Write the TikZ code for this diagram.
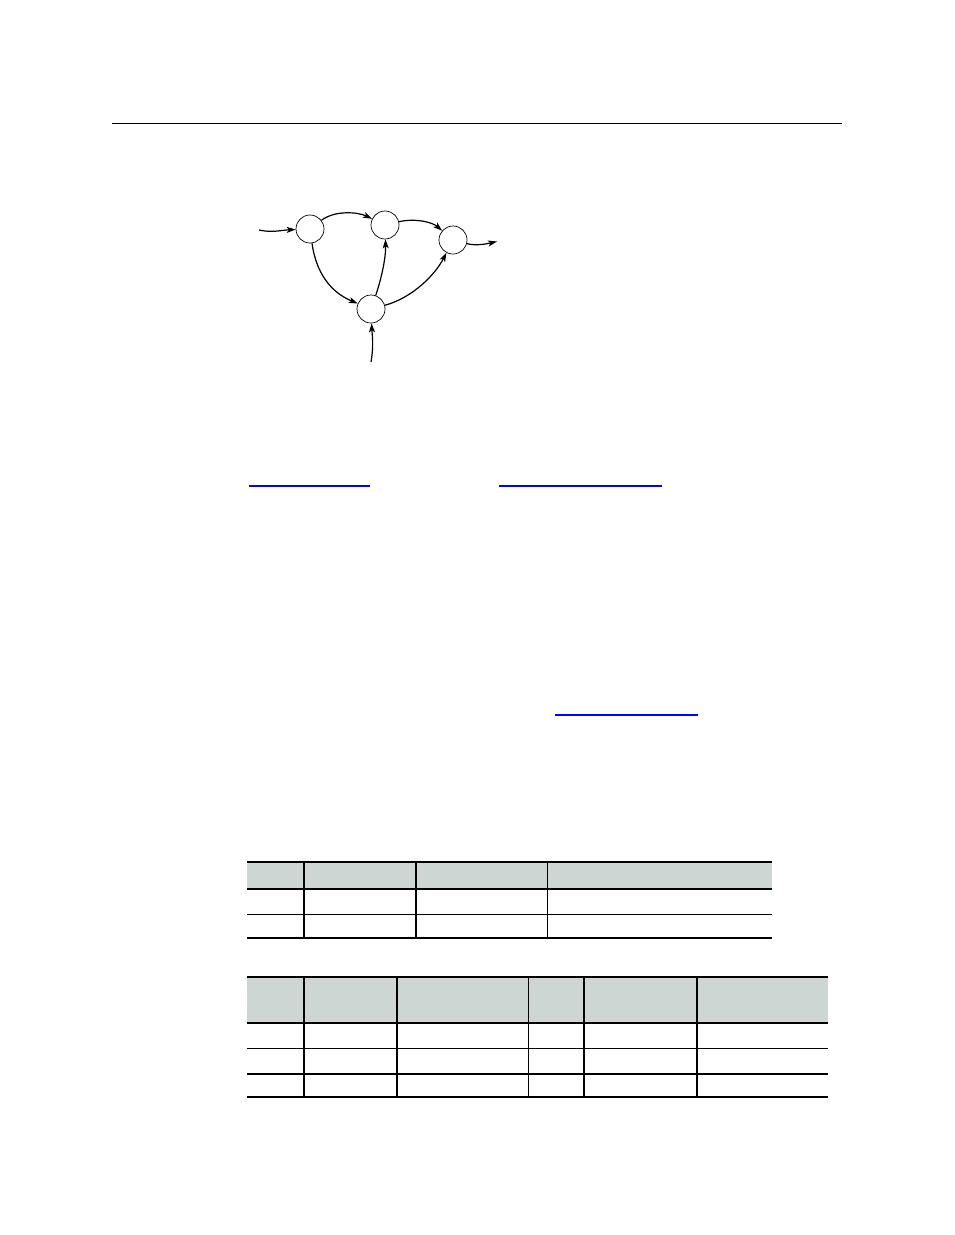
\documentclass[tikz,border=0pt]{standalone}
\usetikzlibrary{arrows.meta}
\definecolor{headgray}{RGB}{206,214,212}
\definecolor{linkblue}{RGB}{0,0,255}

\begin{document}
\begin{tikzpicture}[x=1pt, y=-1pt,
		state/.style={draw, circle, line width=0.7pt, minimum size=28pt, inner sep=0pt},
		flow/.style={line width=1.2pt, -{Stealth[length=9pt, width=6pt, inset=2.2pt]}},
		rule/.style={line width=1.2pt}]
		\useasboundingbox(0, 0)rectangle(954, 1235);
		\draw[line width=1pt](112, 123)--(842, 123);
		% graph
		\node[state](a)at(310, 229){};
		\node[state](b)at(385, 225){};
		\node[state](c)at(453, 240){};
		\node[state](d)at(371, 309){};
		\coordinate(ina)at(259, 230);
		\coordinate(outc)at(497, 241.5);
		\coordinate(srcd)at(371, 362);
		\draw[flow](ina)..controls(272, 233)and(283, 230)..(a);
		\draw[flow](a)..controls(335, 210)and(358, 212)..(b);
		\draw[flow](b)..controls(415, 218)and(432, 222)..(c);
		\draw[flow](a)..controls(316, 272)and(330, 292)..(d);
		\draw[flow](d)..controls(381, 280)and(386, 258)..(b);
		\draw[flow](d)..controls(412, 298)and(435, 275)..(c);
		\draw[flow](c)..controls(476, 246)and(486, 244)..(outc);
		\draw[flow](srcd)..controls(374, 345)and(372, 333)..(d);
		% links
		\draw[linkblue, line width=1.2pt](249, 486)--(370, 486) (499, 486)--(662, 486) (555, 715)--(698, 715);
		% first table
		\fill[headgray](247, 862)rectangle(772, 889);
		\draw[rule](247, 862)--(772, 862) (247, 889)--(772, 889) (247, 914.5)--(772, 914.5) (247, 938)--(772, 938);
		\draw[rule](304, 862)--(304, 938) (416, 862)--(416, 938) (547.5, 862)--(547.5, 938);
		% second table
		\fill[headgray](247, 977)rectangle(828, 1023);
		\draw[rule](247, 977)--(828, 977) (247, 1023)--(828, 1023) (247, 1048.5)--(828, 1048.5) (247, 1074)--(828, 1074) (247, 1097)--(828, 1097);
		\draw[rule](304, 977)--(304, 1097) (397, 977)--(397, 1097) (528.5, 977)--(528.5, 1097) (584, 977)--(584, 1097) (697, 977)--(697, 1097);
	\end{tikzpicture}
\end{document}
